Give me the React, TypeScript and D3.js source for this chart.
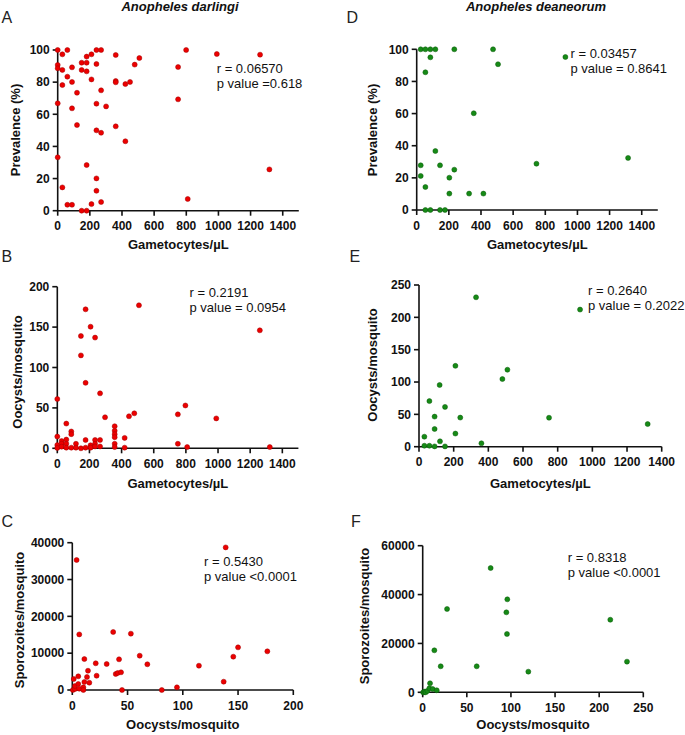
import React from "react";
import * as d3 from "d3";

// ---------- DATA ----------
// A: An. darlingi – gametocytes/µL vs prevalence (%)
const darlingiGamPrev: [number, number][] = [
  [0, 100], [0, 90.7], [0, 88.6], [0, 66.8], [0, 33.2], [29, 97.3], [29, 87.6], [29, 78.2], [29, 14.5],
  [60, 100], [60, 83.4], [60, 3.7], [89, 89.2], [89, 80.1], [89, 63.7], [89, 3.7], [120, 73.4], [120, 53.3],
  [149, 92.1], [149, 87.6], [149, 0], [180, 95.9], [180, 92.1], [180, 86.7], [180, 28.4], [180, 0],
  [210, 97.3], [210, 81.7], [210, 4.1], [241, 100], [241, 91.3], [241, 66.6], [241, 50], [241, 20.1], [241, 12.4],
  [270, 100], [270, 74.9], [270, 48.5], [270, 5.4], [301, 64.9], [361, 96.9], [361, 80.7], [361, 79.9], [361, 52.5],
  [421, 78.8], [421, 43.2], [450, 80.1], [479, 90.9], [508, 95], [749, 89.4], [749, 69.3], [799, 100], [809, 7.3],
  [990, 97.5], [1259, 97.1], [1317, 25.7],
];
// B: An. darlingi – gametocytes/µL vs oocysts/mosquito
const darlingiGamOoc: [number, number][] = [
  [0, 61], [0, 14.5], [0, 4], [0, 0.5], [27, 8.9], [27, 5.6], [27, 2], [56, 30.6], [56, 10.8], [56, 5.6], [56, 0.8],
  [87, 20.8], [87, 17.5], [87, 0.8], [116, 5.6], [116, 0.8], [147, 139], [147, 115], [147, 0],
  [176, 172], [176, 81], [176, 10.3], [176, 0.8], [207, 150.5], [207, 3.7], [207, 0.8],
  [235, 137], [235, 10.3], [235, 5.6], [235, 2.3], [266, 68], [266, 10.3], [266, 2.3], [297, 38.4],
  [357, 27.3], [357, 21.6], [357, 17.5], [357, 13.8], [357, 5.6], [357, 1.5], [419, 12.9], [419, 0.8],
  [446, 39.6], [479, 43.3], [508, 177], [750, 42], [750, 5.6], [797, 53], [808, 1.5], [989, 37], [1260, 146], [1322, 1.5],
];
// C: An. darlingi – oocysts vs sporozoites
const darlingiOocSpz: [number, number][] = [
  [3.9, 35300], [6.3, 15100], [1.3, 2990], [0.5, 0], [2.4, 270], [2.4, 1090], [5.4, 1630], [5.4, 3710], [6.3, 360],
  [10, 730], [10, 0], [10.9, 2170], [10.9, 8400], [13.3, 3530], [14.2, 5240], [15.4, 1990], [21.2, 7250], [22, 3880],
  [31.1, 7060], [37, 15750], [39.3, 4350], [41.1, 4620], [42.3, 8330], [44.1, 4800], [45, 0], [53, 15300],
  [61, 9320], [67.9, 6980], [81, 0], [94.7, 720], [114.6, 6600], [137, 2260], [138.8, 38730], [145.7, 9050],
  [150, 11580], [176.5, 10500],
];
// D: An. deaneorum – gametocytes/µL vs prevalence (%)
const deaneorumGamPrev: [number, number][] = [
  [25, 100], [54, 100], [85, 100], [116, 100], [85, 95], [54, 85.7], [25, 27.8], [25, 21.2], [54, 14.3], [54, 0],
  [85, 0], [116, 36.7], [145, 27.8], [145, 0], [176, 0], [203, 20.1], [203, 10.2], [234, 100], [234, 25.1],
  [326, 10.2], [355, 60.2], [415, 10.2], [475, 100], [506, 90.7], [745, 28.8], [925, 95.2], [1315, 32.4],
];
// E: An. deaneorum – gametocytes/µL vs oocysts/mosquito
const deaneorumGamOoc: [number, number][] = [
  [31, 15.5], [31, 1.5], [60, 70.5], [60, 1.5], [90, 46.5], [90, 27.4], [90, 0.5], [119, 95.4], [121, 8.3],
  [150, 61.5], [150, 0.5], [210, 125], [210, 20.3], [238, 45], [329, 231], [360, 5.2], [481, 104.6], [510, 119],
  [750, 44.8], [929, 212], [1319, 35],
];
// F: An. deaneorum – oocysts vs sporozoites
const deaneorumOocSpz: [number, number][] = [
  [0.5, 0], [1.5, 0], [2.5, 300], [3.4, 0], [5.3, 545], [7.5, 1640], [8.3, 3680], [11.3, 1360], [13.2, 17180],
  [15.9, 820], [20.4, 10640], [27.6, 34090], [61.2, 10640], [77, 50860], [94.8, 32730], [95.9, 38050],
  [95.5, 23860], [119.7, 8450], [212.6, 29700], [231.5, 12550],
];

const gamTicks = [0, 200, 400, 600, 800, 1000, 1200, 1400];
const prevTicks = [0, 20, 40, 60, 80, 100];
const oocTicksB = [0, 50, 100, 150, 200];
const oocTicksE = [0, 50, 100, 150, 200, 250];
const oocXTicksC = [0, 50, 100, 150, 200];
const oocXTicksF = [0, 50, 100, 150, 200, 250];
const spzTicksC = [0, 10000, 20000, 30000, 40000];
const spzTicksF = [0, 20000, 40000, 60000];

const speciesTitles = ["Anopheles darlingi", "Anopheles deaneorum"];
const statsText = [
  ["r = 0.06570", "p value =0.618"],
  ["r = 0.2191", "p value = 0.0954"],
  ["r = 0.5430", "p value <0.0001"],
  ["r = 0.03457", "p value = 0.8641"],
  ["r = 0.2640", "p value = 0.2022"],
  ["r = 0.8318", "p value <0.0001"],
];

const FONT = "'Liberation Sans', Arial, Helvetica, sans-serif";
const RED = "#ec0000";
const RED_STROKE = "#a00000";
const GREEN = "#168a16";
const GREEN_STROKE = "#0b5a0b";

type PanelProps = {
  data: [number, number][];
  xDomain: [number, number];
  yDomain: [number, number];
  xRange: [number, number];
  yRange: [number, number];
  xTicks: number[];
  yTicks: number[];
  xTitle: string;
  yTitle: string;
  yTitleX: number;
  yTitleY: number;
  xTitleY: number;
  fill: string;
  stroke: string;
  letter: string;
  letterX: number;
  letterY: number;
  stats: string[];
  statsX: number;
  statsY: number;
};

function Panel(p: PanelProps) {
  const x = d3.scaleLinear().domain(p.xDomain).range(p.xRange);
  const y = d3.scaleLinear().domain(p.yDomain).range(p.yRange);
  const x0 = p.xRange[0];
  const y0 = p.yRange[0];
  const tickLen = 5;
  const sw = 1.6;
  return (
    <g>
      <text x={p.letterX} y={p.letterY} fontSize={16} fontFamily={FONT} fill="#222">
        {p.letter}
      </text>
      <line x1={x0} x2={x0} y1={y0} y2={p.yRange[1]} stroke="#111" strokeWidth={sw} />
      <line x1={x0 - sw / 2} x2={p.xRange[1]} y1={y0} y2={y0} stroke="#111" strokeWidth={sw} />
      {p.yTicks.map((t) => (
        <g key={"y" + t}>
          <line x1={x0 - tickLen} x2={x0} y1={y(t)} y2={y(t)} stroke="#111" strokeWidth={sw} />
          <text
            x={x0 - tickLen - 3}
            y={y(t)}
            dy="0.36em"
            textAnchor="end"
            fontSize={12}
            fontWeight="bold"
            fontFamily={FONT}
            fill="#111"
          >
            {t}
          </text>
        </g>
      ))}
      {p.xTicks.map((t) => (
        <g key={"x" + t}>
          <line x1={x(t)} x2={x(t)} y1={y0} y2={y0 + tickLen} stroke="#111" strokeWidth={sw} />
          <text
            x={x(t)}
            y={y0 + 19.5}
            textAnchor="middle"
            fontSize={12}
            fontWeight="bold"
            fontFamily={FONT}
            fill="#111"
          >
            {t}
          </text>
        </g>
      ))}
      <text
        x={(p.xRange[0] + p.xRange[1]) / 2}
        y={p.xTitleY}
        textAnchor="middle"
        fontSize={13}
        fontWeight="bold"
        fontFamily={FONT}
        fill="#111"
      >
        {p.xTitle}
      </text>
      <text
        transform={`translate(${p.yTitleX},${p.yTitleY}) rotate(-90)`}
        textAnchor="middle"
        fontSize={13}
        fontWeight="bold"
        fontFamily={FONT}
        fill="#111"
      >
        {p.yTitle}
      </text>
      {p.stats.map((s, i) => (
        <text key={i} x={p.statsX} y={p.statsY + i * 15} fontSize={13} fontFamily={FONT} fill="#111">
          {s}
        </text>
      ))}
      {p.data.map((d, i) => (
        <circle key={i} cx={x(d[0])} cy={y(d[1])} r={2.5} fill={p.fill} stroke={p.stroke} strokeWidth={0.5} />
      ))}
    </g>
  );
}

export default function App() {
  return (
    <svg
      width={685}
      height={735}
      viewBox="0 0 685 735"
      style={{ position: "absolute", left: 0, top: 0, background: "#fff" }}
    >
      <rect width={685} height={735} fill="#fff" />
      <text x={180} y={11} textAnchor="middle" fontSize={13} fontWeight="bold" fontStyle="italic" fontFamily={FONT} fill="#111">
        {speciesTitles[0]}
      </text>
      <text x={536} y={11} textAnchor="middle" fontSize={13} fontWeight="bold" fontStyle="italic" fontFamily={FONT} fill="#111">
        {speciesTitles[1]}
      </text>

      <Panel
        data={darlingiGamPrev}
        xDomain={[0, 1500]}
        yDomain={[0, 100]}
        xRange={[57.7, 298.8]}
        yRange={[210.7, 50]}
        xTicks={gamTicks}
        yTicks={prevTicks}
        xTitle="Gametocytes/µL"
        yTitle="Prevalence (%)"
        yTitleX={20}
        yTitleY={130}
        xTitleY={249}
        fill={RED}
        stroke={RED_STROKE}
        letter="A"
        letterX={1.5}
        letterY={23.3}
        stats={statsText[0]}
        statsX={216.7}
        statsY={73}
      />
      <Panel
        data={darlingiGamOoc}
        xDomain={[0, 1500]}
        yDomain={[0, 200]}
        xRange={[57.3, 298.4]}
        yRange={[448.3, 286.7]}
        xTicks={gamTicks}
        yTicks={oocTicksB}
        xTitle="Gametocytes/µL"
        yTitle="Oocysts/mosquito"
        yTitleX={22}
        yTitleY={372}
        xTitleY={487.5}
        fill={RED}
        stroke={RED_STROKE}
        letter="B"
        letterX={1.5}
        letterY={261.7}
        stats={statsText[1]}
        statsX={189.5}
        statsY={296.5}
      />
      <Panel
        data={darlingiOocSpz}
        xDomain={[0, 200]}
        yDomain={[0, 40000]}
        xRange={[72.3, 293.3]}
        yRange={[690, 542.7]}
        xTicks={oocXTicksC}
        yTicks={spzTicksC}
        xTitle="Oocysts/mosquito"
        yTitle="Sporozoites/mosquito"
        yTitleX={23.5}
        yTitleY={620}
        xTitleY={729}
        fill={RED}
        stroke={RED_STROKE}
        letter="C"
        letterX={1.5}
        letterY={526.7}
        stats={statsText[2]}
        statsX={204}
        statsY={566}
      />
      <Panel
        data={deaneorumGamPrev}
        xDomain={[0, 1500]}
        yDomain={[0, 100]}
        xRange={[416.7, 657.8]}
        yRange={[210, 49.3]}
        xTicks={gamTicks}
        yTicks={prevTicks}
        xTitle="Gametocytes/µL"
        yTitle="Prevalence (%)"
        yTitleX={377}
        yTitleY={130}
        xTitleY={249}
        fill={GREEN}
        stroke={GREEN_STROKE}
        letter="D"
        letterX={346.5}
        letterY={23.3}
        stats={statsText[3]}
        statsX={570.5}
        statsY={57.5}
      />
      <Panel
        data={deaneorumGamOoc}
        xDomain={[0, 1400]}
        yDomain={[0, 250]}
        xRange={[419, 661.7]}
        yRange={[446.7, 285]}
        xTicks={gamTicks}
        yTicks={oocTicksE}
        xTitle="Gametocytes/µL"
        yTitle="Oocysts/mosquito"
        yTitleX={377}
        yTitleY={365}
        xTitleY={487.5}
        fill={GREEN}
        stroke={GREEN_STROKE}
        letter="E"
        letterX={349.5}
        letterY={261.7}
        stats={statsText[4]}
        statsX={588}
        statsY={295}
      />
      <Panel
        data={deaneorumOocSpz}
        xDomain={[0, 250]}
        yDomain={[0, 60000]}
        xRange={[422.7, 643.3]}
        yRange={[692.3, 545.7]}
        xTicks={oocXTicksF}
        yTicks={spzTicksF}
        xTitle="Oocysts/mosquito"
        yTitle="Sporozoites/mosquito"
        yTitleX={369}
        yTitleY={616}
        xTitleY={729.3}
        fill={GREEN}
        stroke={GREEN_STROKE}
        letter="F"
        letterX={351}
        letterY={526.7}
        stats={statsText[5]}
        statsX={567.7}
        statsY={562}
      />
    </svg>
  );
}
